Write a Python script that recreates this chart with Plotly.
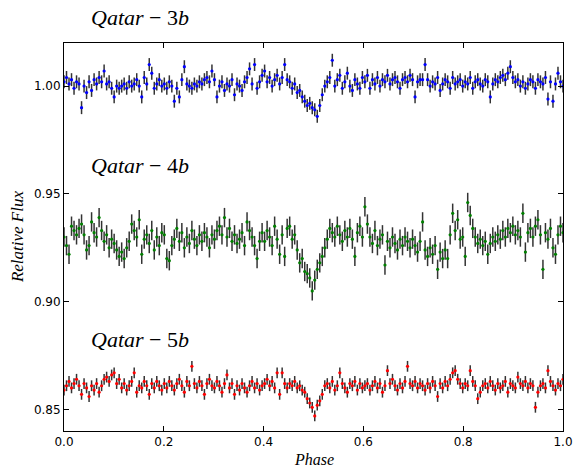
import numpy as np
import plotly.graph_objects as go

# ---- data (relative flux vs orbital phase) ----
flux_q3 = [
    1.002, 1.004, 1.001, 1.003, 0.999, 1.002, 1.001, 0.990, 1.000, 0.997, 1.002, 0.998, 1.003, 1.001, 1.004, 1.002, 1.007, 1.001, 1.002, 0.999,
    0.995, 1.000, 0.999, 1.000, 1.001, 0.999, 1.002, 1.000, 1.001, 1.003, 1.000, 0.995, 1.004, 1.001, 1.010, 1.006, 0.999, 1.001, 1.003, 1.000,
    1.001, 0.999, 1.002, 1.000, 0.993, 0.999, 0.995, 1.003, 1.009, 1.001, 1.000, 0.999, 1.001, 1.000, 1.002, 1.001, 1.003, 1.004, 1.002, 1.007,
    1.003, 0.995, 1.000, 1.002, 0.998, 1.001, 1.000, 1.003, 0.996, 1.001, 1.000, 0.998, 1.002, 1.004, 1.008, 1.001, 1.010, 0.999, 1.002, 1.005,
    1.007, 1.002, 1.004, 1.000, 1.003, 1.005, 1.001, 1.004, 1.010, 1.003, 1.002, 0.999, 1.001, 0.997, 0.998, 0.995, 0.993, 0.991, 0.992, 0.990,
    0.989, 0.986, 0.991, 0.996, 1.000, 1.002, 1.004, 1.012, 1.000, 1.003, 1.005, 0.999, 1.002, 1.006, 1.000, 0.998, 1.003, 1.001, 0.999, 1.004,
    1.002, 1.005, 0.999, 1.003, 1.001, 1.004, 1.000, 1.003, 1.002, 1.005, 1.001, 1.003, 1.004, 1.002, 0.999, 1.003, 1.004, 1.002, 1.005, 1.003,
    0.995, 1.002, 1.003, 1.003, 1.010, 1.003, 1.000, 1.002, 1.001, 1.004, 0.998, 1.001, 1.003, 1.002, 0.999, 1.004, 1.001, 1.002, 1.003, 1.000,
    1.002, 1.001, 1.004, 0.999, 1.002, 1.003, 1.001, 1.000, 1.003, 1.002, 0.995, 1.001, 1.003, 1.002, 1.004, 1.005, 1.003, 1.006, 1.009, 1.004,
    1.002, 1.003, 1.000, 1.002, 0.999, 1.001, 1.003, 1.002, 0.999, 1.003, 1.002, 1.001, 1.004, 0.994, 1.002, 0.993, 1.001, 1.006, 1.002, 1.000,
]

flux_q4 = [
    0.930, 0.926, 0.922, 0.935, 0.933, 0.931, 0.934, 0.936, 0.931, 0.924, 0.926, 0.937, 0.932, 0.930, 0.939, 0.933, 0.928, 0.931, 0.925, 0.929,
    0.927, 0.924, 0.921, 0.923, 0.920, 0.925, 0.928, 0.936, 0.933, 0.930, 0.938, 0.922, 0.929, 0.931, 0.927, 0.933, 0.924, 0.930, 0.926, 0.932,
    0.931, 0.920, 0.919, 0.926, 0.929, 0.934, 0.928, 0.932, 0.925, 0.930, 0.927, 0.933, 0.929, 0.926, 0.931, 0.928, 0.932, 0.930, 0.925, 0.931,
    0.929, 0.933, 0.935, 0.931, 0.939, 0.930, 0.934, 0.928, 0.931, 0.927, 0.929, 0.932, 0.926, 0.937, 0.933, 0.930, 0.926, 0.920, 0.928, 0.932,
    0.928, 0.933, 0.930, 0.926, 0.935, 0.929, 0.922, 0.931, 0.921, 0.934, 0.935, 0.929, 0.931, 0.924, 0.918, 0.920, 0.914, 0.913, 0.911, 0.905,
    0.910, 0.915, 0.918, 0.921, 0.925, 0.929, 0.934, 0.932, 0.930, 0.935, 0.931, 0.928, 0.933, 0.930, 0.934, 0.929, 0.921, 0.932, 0.935, 0.930,
    0.944, 0.936, 0.930, 0.927, 0.933, 0.926, 0.929, 0.931, 0.917, 0.928, 0.925, 0.930, 0.927, 0.924, 0.929, 0.926, 0.930, 0.928, 0.925, 0.929,
    0.926, 0.923, 0.928, 0.937, 0.924, 0.921, 0.925, 0.922, 0.926, 0.915, 0.923, 0.920, 0.924, 0.920, 0.931, 0.941, 0.933, 0.938, 0.929, 0.930,
    0.921, 0.946, 0.940, 0.934, 0.930, 0.927, 0.929, 0.926, 0.928, 0.922, 0.927, 0.930, 0.928, 0.931, 0.929, 0.933, 0.930, 0.934, 0.932, 0.935,
    0.931, 0.933, 0.930, 0.941, 0.923, 0.932, 0.934, 0.930, 0.935, 0.938, 0.931, 0.915, 0.932, 0.929, 0.934, 0.925, 0.922, 0.931, 0.935, 0.932,
]

flux_q5 = [
    0.859, 0.861, 0.863, 0.860, 0.862, 0.864, 0.861, 0.857, 0.862, 0.860, 0.856, 0.861, 0.859, 0.862, 0.858, 0.861, 0.864, 0.865, 0.863, 0.866,
    0.867, 0.862, 0.864, 0.860, 0.862, 0.859, 0.861, 0.863, 0.867, 0.858, 0.861, 0.860, 0.863, 0.861, 0.857, 0.862, 0.860, 0.863, 0.861, 0.859,
    0.862, 0.860, 0.863, 0.861, 0.859, 0.862, 0.864, 0.861, 0.858, 0.863, 0.861, 0.870, 0.862, 0.860, 0.863, 0.861, 0.857, 0.862, 0.864, 0.861,
    0.860, 0.863, 0.861, 0.858, 0.862, 0.866, 0.860, 0.862, 0.857, 0.861, 0.859, 0.862, 0.860, 0.858, 0.861, 0.863, 0.860, 0.862, 0.859, 0.861,
    0.862, 0.864, 0.861, 0.863, 0.860, 0.867, 0.857, 0.867, 0.862, 0.860, 0.862, 0.861, 0.863, 0.860, 0.861, 0.859, 0.858, 0.855, 0.853, 0.851,
    0.847, 0.852, 0.854, 0.857, 0.861, 0.862, 0.860, 0.863, 0.859, 0.861, 0.867, 0.862, 0.860, 0.858, 0.862, 0.861, 0.863, 0.859, 0.862, 0.860,
    0.861, 0.862, 0.859, 0.861, 0.863, 0.860, 0.862, 0.858, 0.861, 0.868, 0.862, 0.864, 0.861, 0.859, 0.862, 0.860, 0.863, 0.870, 0.862, 0.861,
    0.863, 0.860, 0.862, 0.861, 0.859, 0.862, 0.860, 0.863, 0.861, 0.856, 0.862, 0.860, 0.863, 0.861, 0.864, 0.867, 0.868, 0.864, 0.862, 0.860,
    0.862, 0.861, 0.868, 0.863, 0.861, 0.855, 0.858, 0.861, 0.862, 0.860, 0.863, 0.861, 0.859, 0.862, 0.860, 0.861, 0.863, 0.858, 0.862, 0.861,
    0.860, 0.865, 0.862, 0.861, 0.863, 0.860, 0.862, 0.861, 0.851, 0.858, 0.861, 0.862, 0.860, 0.868, 0.863, 0.861, 0.859, 0.862, 0.861, 0.864,
]

err_q3 = 0.003
err_q4 = 0.0045
err_q5 = 0.0025

series_names = ["Qatar-3b", "Qatar-4b", "Qatar-5b"]
series_colors = ["#0000ff", "#007f00", "#ff0000"]
x_ticks = [0.0, 0.2, 0.4, 0.6, 0.8, 1.0]
y_ticks = [0.85, 0.90, 0.95, 1.00]

W, H = 573, 468
L, R, T, B = 64, 10, 43, 37

fig = go.Figure()
for flux, err, name, col in zip([flux_q3, flux_q4, flux_q5], [err_q3, err_q4, err_q5],
                                series_names, series_colors):
    phase = np.linspace(0.0, 1.0, len(flux))
    fig.add_trace(go.Scatter(
        x=phase, y=flux, mode="markers", name=name, showlegend=False,
        marker=dict(color=col, size=3.2, line=dict(width=0)),
        error_y=dict(type="constant", value=err, color="rgba(0,0,0,0.8)",
                     thickness=1.5, width=0),
        cliponaxis=True,
    ))

axis_common = dict(
    showline=True, linecolor="black", linewidth=1, mirror="ticks",
    ticks="inside", ticklen=5, tickwidth=1, tickcolor="black",
    showgrid=False, zeroline=False, automargin=False,
    tickfont=dict(family="DejaVu Sans", size=12, color="black"),
)
fig.update_xaxes(range=[0, 1], tickvals=x_ticks, tickformat=".1f", **axis_common)
fig.update_yaxes(range=[0.84, 1.02], tickvals=y_ticks, tickformat=".2f", **axis_common)

serif = "Liberation Serif"
label_y = {"Qatar-3b": 1.067, "Qatar-4b": 0.683, "Qatar-5b": 0.237}
for name in series_names:
    base, num = name.split("-")
    txt = "<i>%s</i> \u2212 %s<i>%s</i>" % (base, num[:-1], num[-1])
    fig.add_annotation(x=0.05, y=label_y[name], xref="paper", yref="paper",
                       text=txt, showarrow=False, xanchor="left", yanchor="middle",
                       font=dict(family=serif, size=22, color="black"))

fig.add_annotation(x=0.5, y=-0.074, xref="paper", yref="paper", text="<i>Phase</i>",
                   showarrow=False, xanchor="center", yanchor="middle",
                   font=dict(family=serif, size=16, color="black"))
fig.add_annotation(x=-0.094, y=0.5, xref="paper", yref="paper", text="<i>Relative Flux</i>",
                   showarrow=False, xanchor="center", yanchor="middle", textangle=-90,
                   font=dict(family=serif, size=17, color="black"))

fig.update_layout(
    width=W, height=H, autosize=False,
    margin=dict(l=L, r=R, t=T, b=B, pad=0, autoexpand=False),
    paper_bgcolor="white", plot_bgcolor="white",
)

fig.write_html(
    "out.html",
    config={"displayModeBar": False},
    post_script=("document.documentElement.style.margin='0';"
                 "document.body.style.margin='0';"
                 "document.body.style.overflow='hidden';"
                 "document.documentElement.style.overflow='hidden';"),
)
